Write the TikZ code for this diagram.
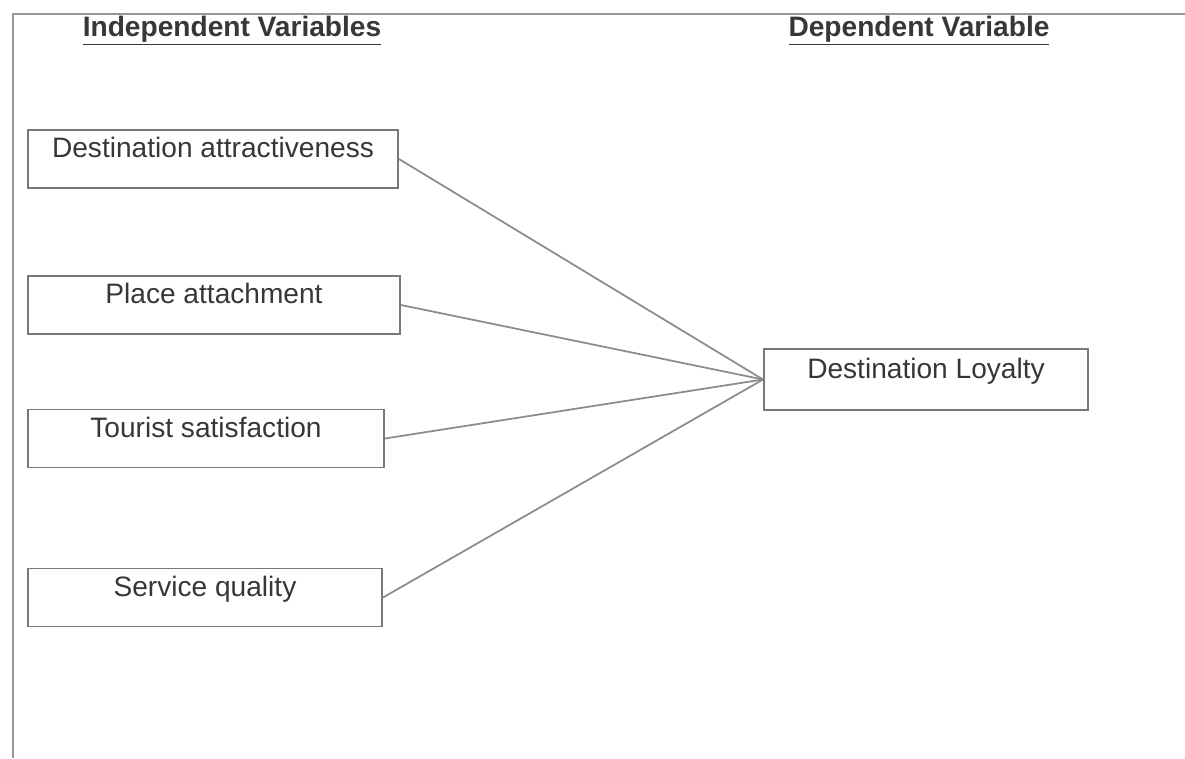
\documentclass[tikz,border=0pt]{standalone}
\usepackage{fontspec}
\setmainfont{Liberation Sans}
\definecolor{rahmen}{RGB}{150,150,150}
\definecolor{kante}{RGB}{120,120,120}
\definecolor{linie}{RGB}{140,140,140}
\definecolor{schrift}{RGB}{55,55,55}
\tikzset{
    varbox/.style={draw=kante, line width=1.1pt, text=schrift, inner sep=0pt,
        text height=0.7em, text depth=0.85em, minimum height=58*0.02cm},
    heading/.style={text=schrift, font=\fontsize{16}{19}\selectfont\bfseries, anchor=base},
    link/.style={linie, line width=1pt}
}

\begin{document}
\begin{tikzpicture}[x=0.02cm, y=-0.02cm, font=\fontsize{16}{19}\selectfont]

    \useasboundingbox (0,0) rectangle (1185,758);
    \draw[rahmen, line width=1.6pt] (13,758) -- (13,14) -- (1185,14);

    \node[heading] (indep) at (232,36) {\underline{Independent Variables}};
    \node[heading] (dep) at (919,36) {\underline{Dependent Variable}};

    \node[varbox, minimum width=370*0.02cm] (attr) at (213,159) {Destination attractiveness};
    \node[varbox, minimum width=372*0.02cm] (place) at (214,305) {Place attachment};
    \node[varbox, minimum width=356*0.02cm] (satis) at (206,438.5) {Tourist satisfaction};
    \node[varbox, minimum width=354*0.02cm] (serv) at (205,597.5) {Service quality};

    \node[varbox, minimum width=324*0.02cm, minimum height=61*0.02cm] (loyal) at (926,379.5) {Destination Loyalty};

    \foreach \v in {attr, place, satis, serv}
        \draw[link] (\v.east) -- (loyal.west);

\end{tikzpicture}
\end{document}
